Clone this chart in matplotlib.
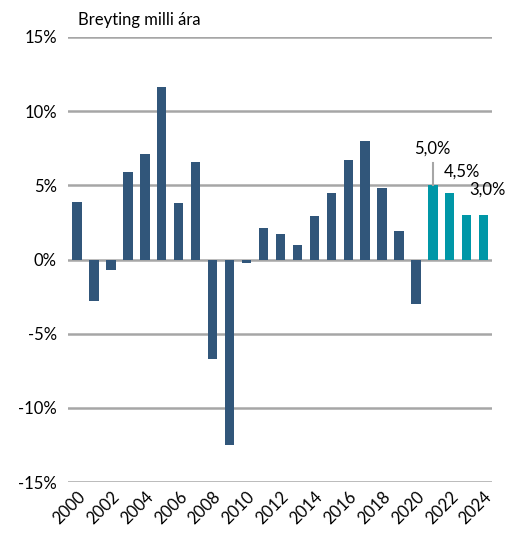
import numpy as np
import matplotlib.pyplot as plt

plt.rcParams['font.family'] = ['Lato', 'DejaVu Sans']

years = list(range(2000, 2025))
values = [3.9, -2.8, -0.7, 5.9, 7.1, 11.6, 3.8, 6.6, -6.7, -12.5,
          -0.25, 2.1, 1.75, 1.0, 2.9, 4.5, 6.7, 8.0, 4.8, 1.9,
          -3.0, 5.0, 4.5, 3.0, 3.0]
forecast_from = 2021
labels = {2021: '5,0%', 2022: '4,5%', 2023: '3,0%'}

DARK = '#31567A'
TEAL = '#0097A7'
GRID = '#A6A6A6'

fig = plt.figure(figsize=(5.10, 5.36), dpi=100)
ax = fig.add_axes([0.133, 0.1007, 0.832, 0.8303])

x = np.arange(len(years))
colors = [TEAL if y >= forecast_from else DARK for y in years]
ax.bar(x, values, width=0.55, color=colors, zorder=2)

yticks = [-15, -10, -5, 0, 5, 10, 15]
for t in yticks:
    ax.axhline(t, color=GRID, lw=1.8, zorder=1)

ax.set_ylim(-15, 15)
ax.set_xlim(-0.55, len(years) - 0.5)
ax.set_yticks(yticks)
ax.set_yticklabels([f'{t}%' for t in yticks], fontsize=12)
ax.set_xticks(x[::2])
ax.set_xticklabels([str(y) for y in years[::2]], rotation=45, ha='right',
                   rotation_mode='anchor', fontsize=12)
ax.tick_params(axis='y', length=0, pad=8)
ax.tick_params(axis='x', length=0, pad=5)
for s in ax.spines.values():
    s.set_visible(False)

# annotations on forecast bars
i21 = years.index(2021)
ax.plot([i21, i21], [values[i21], values[i21] + 1.5], color=GRID, lw=1.5, zorder=3)
ax.text(i21 - 0.05, 7.5, labels[2021], ha='center', va='center', fontsize=12)
i22 = years.index(2022)
ax.text(i22 + 0.7, 5.95, labels[2022], ha='center', va='center', fontsize=12)
i23 = years.index(2023)
ax.text(i23 + 1.2, 4.7, labels[2023], ha='center', va='center', fontsize=12)

fig.text(0.153, 0.962, 'Breyting milli ára', fontsize=12, ha='left', va='center')

fig.savefig('out.png', dpi=100)
